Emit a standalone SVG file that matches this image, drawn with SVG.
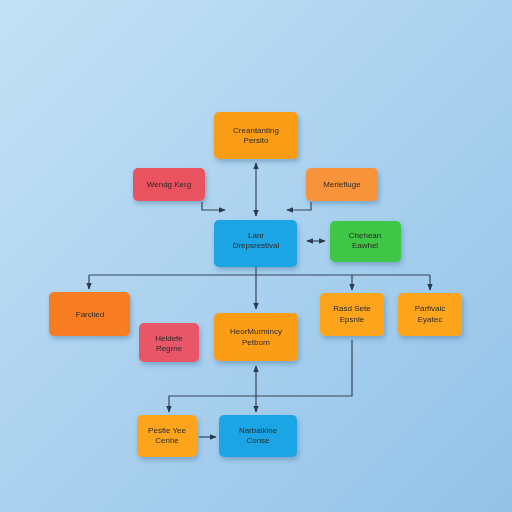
<svg xmlns="http://www.w3.org/2000/svg" width="512" height="512" viewBox="0 0 512 512">
<defs>
<linearGradient id="bg" x1="0" y1="0" x2="1" y2="1">
<stop offset="0" stop-color="#c3e1f6"/>
<stop offset="1" stop-color="#93c2e8"/>
</linearGradient>
<filter id="sh" x="-20%" y="-20%" width="150%" height="160%">
<feDropShadow dx="1.5" dy="3" stdDeviation="2.5" flood-color="#2a5a85" flood-opacity="0.35"/>
</filter>
<marker id="ah" viewBox="0 0 10 10" refX="9" refY="5" markerWidth="6" markerHeight="6" orient="auto-start-reverse">
<path d="M0,1 L10,5 L0,9 z" fill="#2b3a4e"/>
</marker>
</defs>
<style>
.n{filter:url(#sh);}
.t{font-family:"Liberation Sans",Arial,sans-serif;font-size:8px;fill:#2a2a2a;text-anchor:middle;}
.c{fill:none;stroke:#34455a;stroke-width:1.2;}
</style>
<rect width="512" height="512" fill="url(#bg)"/>
<g id="connectors">
<path class="c" d="M256,163 L256,216" marker-start="url(#ah)" marker-end="url(#ah)"/>
<path class="c" d="M202,202 L202,210 L225,210" marker-end="url(#ah)"/>
<path class="c" d="M311,202 L311,210 L287,210" marker-end="url(#ah)"/>
<path class="c" d="M307,241 L325,241" marker-start="url(#ah)" marker-end="url(#ah)"/>
<path class="c" d="M256,267 L256,309" marker-end="url(#ah)"/>
<path class="c" d="M89,275 L430,275"/>
<path class="c" d="M89,275 L89,289" marker-end="url(#ah)"/>
<path class="c" d="M352,275 L352,290" marker-end="url(#ah)"/>
<path class="c" d="M430,275 L430,290" marker-end="url(#ah)"/>
<path class="c" d="M352,340 L352,396 L169,396 L169,412" marker-end="url(#ah)"/>
<path class="c" d="M256,366 L256,412" marker-start="url(#ah)" marker-end="url(#ah)"/>
<path class="c" d="M199,437 L216,437" marker-end="url(#ah)"/>
</g>
<g id="n1" class="n"><rect x="214" y="112" width="84" height="47" rx="5" fill="#fa9c16"/><text class="t" x="256" y="133">Creantanting</text><text class="t" x="256" y="143">Persito</text></g>
<g id="n2" class="n"><rect x="133" y="168" width="72" height="33" rx="5" fill="#e8535f"/><text class="t" x="169" y="187">Wendg Kerg</text></g>
<g id="n3" class="n"><rect x="306" y="168" width="72" height="33" rx="5" fill="#f7943b"/><text class="t" x="342" y="187">Meriefluge</text></g>
<g id="n4" class="n"><rect x="214" y="220" width="83" height="47" rx="5" fill="#1fa5e5"/><text class="t" x="256" y="238">Lanr</text><text class="t" x="256" y="248">Drepsrestival</text></g>
<g id="n5" class="n"><rect x="330" y="221" width="71" height="41" rx="5" fill="#3fc646"/><text class="t" x="365" y="238">Chehean</text><text class="t" x="365" y="248">Eawhel</text></g>
<g id="n6" class="n"><rect x="49" y="292" width="81" height="44" rx="5" fill="#f77b22"/><text class="t" x="90" y="317">Farclied</text></g>
<g id="n7" class="n"><rect x="139" y="323" width="60" height="39" rx="5" fill="#e85768"/><text class="t" x="169" y="341">Heldefe</text><text class="t" x="169" y="351">Regrne</text></g>
<g id="n8" class="n"><rect x="214" y="313" width="84" height="48" rx="5" fill="#fb9e18"/><text class="t" x="256" y="334">HeorMurmincy</text><text class="t" x="256" y="345">Petborn</text></g>
<g id="n9" class="n"><rect x="320" y="293" width="64" height="43" rx="5" fill="#fca51a"/><text class="t" x="352" y="311">Rasd Sete</text><text class="t" x="352" y="322">Epsnle</text></g>
<g id="n10" class="n"><rect x="398" y="293" width="64" height="43" rx="5" fill="#fca51a"/><text class="t" x="430" y="311">Parfivaic</text><text class="t" x="430" y="322">Eyatec</text></g>
<g id="n11" class="n"><rect x="137" y="415" width="60" height="42" rx="5" fill="#fca51a"/><text class="t" x="167" y="433">Pestle Yee</text><text class="t" x="167" y="443">Cenhe</text></g>
<g id="n12" class="n"><rect x="219" y="415" width="78" height="42" rx="5" fill="#1fa5e5"/><text class="t" x="258" y="433">Narbalkine</text><text class="t" x="258" y="443">Conse</text></g>
</svg>
